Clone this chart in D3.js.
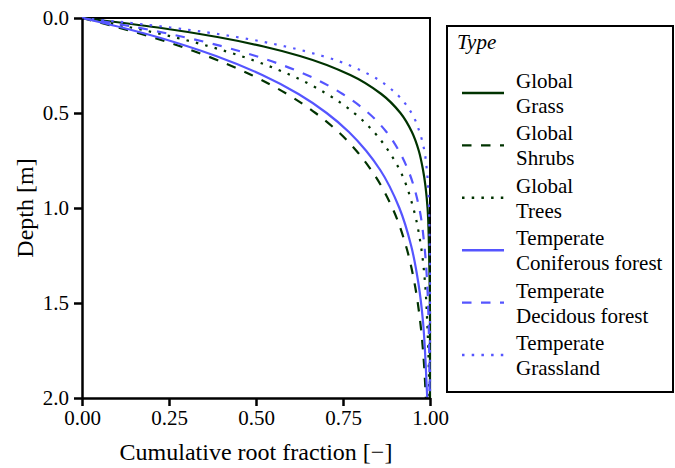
<!DOCTYPE html>
<meta charset="utf-8">
<style>
body { margin: 0; background: #fff; }
svg, svg text { font-family: "Liberation Serif", "DejaVu Serif", serif; fill: #000; }
.axis text { font-size: 21px; }
.axis path, .axis line { stroke: #000; stroke-width: 2.5; }
.title { font-size: 24px; }
.legend text { font-size: 21px; }
.curve { fill: none; stroke-width: 2.2; }
</style>
<svg width="675" height="468"></svg>
<script src="https://cdn.jsdelivr.net/npm/d3@7"></script>
<script>

// depth in metres, shared by all series
var depths = [0, 0.05, 0.10, 0.15, 0.20, 0.30, 0.40, 0.50, 0.60, 0.70, 0.80, 1.00, 1.20, 1.40, 1.60, 1.80, 2.00];

// cumulative root fraction
var globalGrass   = [0, 0.218, 0.389, 0.522, 0.626, 0.771, 0.860, 0.915, 0.948, 0.968, 0.980, 0.993, 0.997, 0.999, 1.000, 1.000, 1.000];
var globalShrubs  = [0, 0.105, 0.200, 0.284, 0.359, 0.487, 0.589, 0.671, 0.737, 0.789, 0.831, 0.892, 0.931, 0.956, 0.972, 0.982, 0.988];
var globalTrees   = [0, 0.141, 0.263, 0.367, 0.456, 0.599, 0.704, 0.782, 0.839, 0.881, 0.913, 0.952, 0.974, 0.986, 0.992, 0.996, 0.998];
var tempConifer   = [0, 0.114, 0.216, 0.305, 0.385, 0.518, 0.622, 0.703, 0.767, 0.817, 0.857, 0.912, 0.946, 0.967, 0.980, 0.987, 0.992];
var tempDeciduous = [0, 0.159, 0.292, 0.405, 0.499, 0.646, 0.749, 0.823, 0.875, 0.911, 0.937, 0.969, 0.984, 0.992, 0.996, 0.998, 0.999];
var tempGrassland = [0, 0.254, 0.444, 0.585, 0.691, 0.828, 0.904, 0.947, 0.970, 0.984, 0.991, 0.997, 0.999, 1.000, 1.000, 1.000, 1.000];

var labels = [["Global", "Grass"], ["Global", "Shrubs"], ["Global", "Trees"],
              ["Temperate", "Coniferous forest"], ["Temperate", "Decidous forest"], ["Temperate", "Grassland"]];
var values = [globalGrass, globalShrubs, globalTrees, tempConifer, tempDeciduous, tempGrassland];

var xTicks = [0, 0.25, 0.5, 0.75, 1];
var yTicks = [0, 0.5, 1, 1.5, 2];

var green = "#003300", blue = "#5555ff";
var colors = [green, green, green, blue, blue, blue];
var dashes = [null, "9.5,9.5", "2.5,7.2", null, "9.5,9.5", "2.5,7.2"];

var svg = d3.select("svg");

var x = d3.scaleLinear().domain([0, 1]).range([82, 430]),
    y = d3.scaleLinear().domain([0, 2]).range([18, 398]);

var series = values.map(function(v, i) {
  return { name: labels[i], pts: depths.map(function(d, j) { return [v[j], d]; }) };
});

var line = d3.line()
    .x(function(d) { return x(d[0]); })
    .y(function(d) { return y(d[1]); })
    .curve(d3.curveMonotoneY);

// top and right frame
svg.append("path")
    .attr("d", "M" + x(0) + "," + y(0) + "H" + x(1) + "V" + y(2))
    .attr("fill", "none")
    .attr("stroke", "#000")
    .attr("stroke-width", 2);

svg.selectAll(".curve")
  .data(series)
  .enter().append("path")
    .attr("class", "curve")
    .attr("d", function(d) { return line(d.pts); })
    .attr("stroke", function(d, i) { return colors[i]; })
    .attr("stroke-dasharray", function(d, i) { return dashes[i]; });

svg.append("g")
    .attr("class", "axis")
    .attr("transform", "translate(0," + y(2) + ")")
    .call(d3.axisBottom(x).tickValues(xTicks).tickFormat(d3.format(".2f")).tickSize(8).tickSizeOuter(0).tickPadding(4));

svg.append("g")
    .attr("class", "axis")
    .attr("transform", "translate(" + x(0) + ",0)")
    .call(d3.axisLeft(y).tickValues(yTicks).tickFormat(d3.format(".1f")).tickSize(8).tickSizeOuter(0).tickPadding(5));

svg.selectAll(".axis").attr("font-family", null);

svg.append("text")
    .attr("class", "title")
    .attr("x", (x(0) + x(1)) / 2)
    .attr("y", 460)
    .attr("text-anchor", "middle")
    .text("Cumulative root fraction [\u2212]");

svg.append("text")
    .attr("class", "title")
    .attr("transform", "translate(33," + (y(1)) + ") rotate(-90)")
    .attr("text-anchor", "middle")
    .text("Depth [m]");

// legend
var lg = svg.append("g").attr("class", "legend");

lg.append("rect")
    .attr("x", 447).attr("y", 26)
    .attr("width", 226).attr("height", 366)
    .attr("fill", "#fff")
    .attr("stroke", "#000")
    .attr("stroke-width", 2);

lg.append("text")
    .attr("x", 457).attr("y", 49)
    .style("font-style", "italic")
    .text("Type");

var item = lg.selectAll(".item")
  .data(series)
  .enter().append("g")
    .attr("class", "item")
    .attr("transform", function(d, i) { return "translate(0," + (93 + i * 52.4) + ")"; });

item.append("line")
    .attr("x1", 462).attr("x2", 504)
    .attr("stroke", function(d, i) { return colors[i]; })
    .attr("stroke-width", 2.4)
    .attr("stroke-dasharray", function(d, i) { return dashes[i]; });

item.append("text")
    .attr("x", 516).attr("y", -5)
    .text(function(d) { return d.name[0]; });

item.append("text")
    .attr("x", 516).attr("y", 20)
    .text(function(d) { return d.name[1]; });

</script>
